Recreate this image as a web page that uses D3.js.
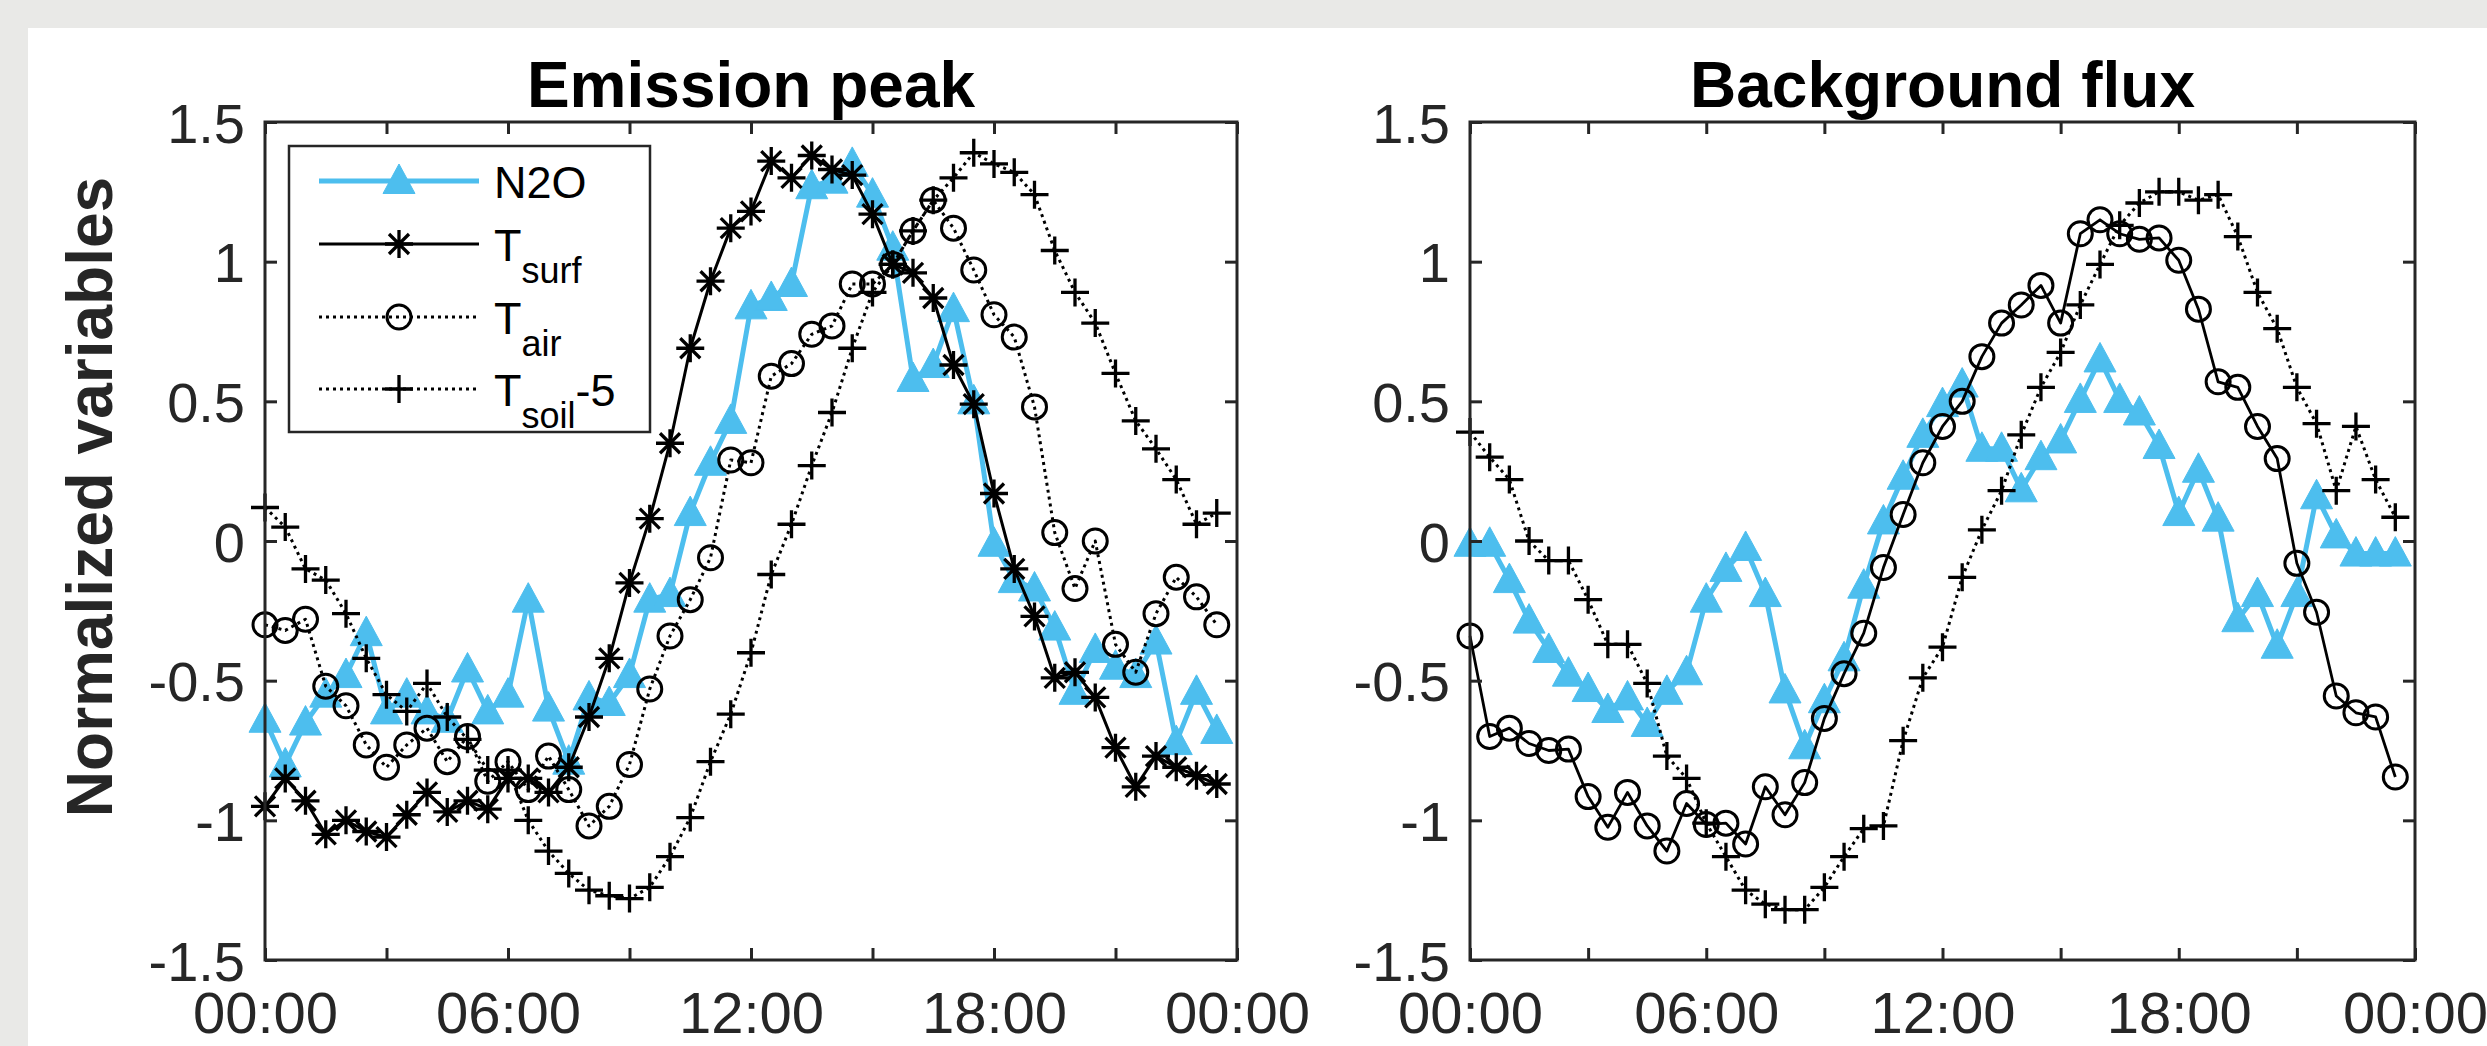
<!DOCTYPE html>
<html>
<head>
<meta charset="utf-8">
<script src="https://cdn.jsdelivr.net/npm/d3@7"></script>
<style>
  html, body { margin: 0; padding: 0; background: #e9e9e7; }
  svg { display: block; }
  text { font-family: "Liberation Sans", Arial, Helvetica, sans-serif; }
</style>
</head>
<body>
<svg id="chart" width="2487" height="1046"></svg>
<script>
// half-hourly time stamps of the mean diurnal cycle
const times = ["00:00","00:30","01:00","01:30","02:00","02:30","03:00","03:30","04:00","04:30",
  "05:00","05:30","06:00","06:30","07:00","07:30","08:00","08:30","09:00","09:30",
  "10:00","10:30","11:00","11:30","12:00","12:30","13:00","13:30","14:00","14:30",
  "15:00","15:30","16:00","16:30","17:00","17:30","18:00","18:30","19:00","19:30",
  "20:00","20:30","21:00","21:30","22:00","22:30","23:00","23:30"];

// Emission peak panel
const n2oPeak = [-0.64,-0.80,-0.65,-0.55,-0.48,-0.33,-0.61,-0.55,-0.61,-0.64,
  -0.46,-0.61,-0.55,-0.21,-0.60,-0.79,-0.56,-0.58,-0.48,-0.21,
  -0.19,0.10,0.28,0.43,0.84,0.87,0.92,1.27,1.29,1.35,
  1.24,1.05,0.58,0.63,0.83,0.50,-0.01,-0.14,-0.17,-0.31,
  -0.54,-0.39,-0.45,-0.48,-0.36,-0.72,-0.54,-0.68];
const tsurfPeak = [-0.95,-0.85,-0.93,-1.05,-1.00,-1.04,-1.06,-0.98,-0.90,-0.97,
  -0.93,-0.96,-0.85,-0.85,-0.90,-0.81,-0.63,-0.42,-0.15,0.08,
  0.35,0.69,0.93,1.12,1.18,1.36,1.30,1.38,1.33,1.31,
  1.17,0.99,0.96,0.87,0.63,0.49,0.17,-0.10,-0.27,-0.49,
  -0.47,-0.56,-0.74,-0.88,-0.77,-0.81,-0.84,-0.87];
const tairPeak = [-0.30,-0.32,-0.28,-0.52,-0.59,-0.73,-0.81,-0.73,-0.67,-0.79,
  -0.70,-0.86,-0.79,-0.89,-0.77,-0.89,-1.02,-0.95,-0.80,-0.53,
  -0.34,-0.21,-0.06,0.29,0.28,0.59,0.635,0.74,0.77,0.92,
  0.92,0.99,1.11,1.22,1.12,0.97,0.81,0.73,0.48,0.03,
  -0.17,0.00,-0.37,-0.47,-0.26,-0.13,-0.20,-0.30];
const tsoilPeak = [0.12,0.05,-0.10,-0.14,-0.26,-0.42,-0.55,-0.61,-0.51,-0.63,
  -0.71,-0.82,-0.82,-1.00,-1.11,-1.19,-1.25,-1.27,-1.28,-1.24,
  -1.13,-0.99,-0.79,-0.62,-0.40,-0.12,0.06,0.27,0.46,0.69,
  0.89,0.99,1.11,1.22,1.30,1.39,1.35,1.32,1.24,1.04,
  0.89,0.78,0.60,0.43,0.33,0.22,0.06,0.10];

// Background flux panel
const n2oBg = [-0.01,-0.01,-0.14,-0.285,-0.39,-0.475,-0.53,-0.605,-0.56,-0.655,
  -0.54,-0.47,-0.21,-0.10,-0.025,-0.19,-0.535,-0.735,-0.57,-0.42,
  -0.16,0.07,0.23,0.38,0.49,0.56,0.33,0.33,0.185,0.30,
  0.36,0.505,0.65,0.505,0.46,0.34,0.10,0.255,0.08,-0.28,
  -0.19,-0.375,-0.19,0.16,0.02,-0.045,-0.045,-0.045];
const tairBg = [-0.34,-0.70,-0.67,-0.725,-0.75,-0.745,-0.915,-1.025,-0.90,-1.02,
  -1.11,-0.94,-1.015,-1.01,-1.085,-0.88,-0.98,-0.865,-0.635,-0.475,
  -0.33,-0.095,0.095,0.28,0.41,0.50,0.66,0.78,0.845,0.915,
  0.78,1.10,1.15,1.10,1.08,1.085,1.005,0.83,0.57,0.55,
  0.41,0.295,-0.08,-0.255,-0.555,-0.615,-0.63,-0.845];
const tsoilBg = [0.39,0.30,0.22,0.00,-0.07,-0.07,-0.21,-0.37,-0.37,-0.51,
  -0.77,-0.85,-1.01,-1.13,-1.25,-1.30,-1.32,-1.32,-1.24,-1.13,
  -1.03,-1.02,-0.715,-0.49,-0.38,-0.13,0.04,0.18,0.38,0.55,
  0.675,0.845,0.99,1.13,1.21,1.25,1.25,1.22,1.24,1.09,
  0.89,0.76,0.55,0.42,0.18,0.41,0.22,0.085];

// axis ticks
const xTickHours = [0, 3, 6, 9, 12, 15, 18, 21, 24];
const xLabelHours = [0, 6, 12, 18, 24];
const xTickLabels = ["00:00", "06:00", "12:00", "18:00", "00:00"];
const yTicks = [-1.5, -1, -0.5, 0, 0.5, 1, 1.5];

const titles = ["Emission peak", "Background flux"];

const BLUE = "#4DBEEE";
const AXIS = "#262626";

// line / marker looks for each series
const styles = {
  n2o:   { color: BLUE, width: 5, dash: null, marker: "triangle" },
  tsurf: { color: "#000", width: 3, dash: null, marker: "star" },
  tairDot: { color: "#000", width: 3, dash: "3 4", marker: "circle" },
  tairSolid: { color: "#000", width: 2.8, dash: null, marker: "circle" },
  tsoil: { color: "#000", width: 3, dash: "3 4", marker: "plus" }
};

const hours = times.map(t => +t.slice(0, 2) + +t.slice(3) / 60);

const svg = d3.select("#chart");
svg.append("rect").attr("x", 28).attr("y", 28)
  .attr("width", 2487 - 28).attr("height", 1046 - 28).attr("fill", "#fff");

const plotTop = 122, plotBottom = 960;
const yScale = d3.scaleLinear().domain([-1.5, 1.5]).range([plotBottom, plotTop]);

const panels = [
  { left: 265, right: 1237, title: titles[0],
    series: [[n2oPeak, styles.n2o], [tsurfPeak, styles.tsurf], [tairPeak, styles.tairDot], [tsoilPeak, styles.tsoil]] },
  { left: 1470, right: 2415, title: titles[1],
    series: [[n2oBg, styles.n2o], [tairBg, styles.tairSolid], [tsoilBg, styles.tsoil]] }
];

function markerPath(type) {
  if (type === "triangle") return "M0,-17L16,12.5L-16,12.5Z";
  if (type === "star") return "M-14,0H14M0,-14V14M-10,-10L10,10M-10,10L10,-10";
  if (type === "plus") return "M-14,0H14M0,-14V14";
  return null;
}

function drawMarker(g, type, x, y, color) {
  if (type === "circle") {
    g.append("circle").attr("cx", x).attr("cy", y).attr("r", 12)
      .attr("fill", "none").attr("stroke", color).attr("stroke-width", 3);
  } else if (type === "triangle") {
    g.append("path").attr("d", markerPath(type))
      .attr("transform", `translate(${x},${y})`)
      .attr("fill", color).attr("stroke", color).attr("stroke-width", 1);
  } else {
    g.append("path").attr("d", markerPath(type))
      .attr("transform", `translate(${x},${y})`)
      .attr("fill", "none").attr("stroke", color).attr("stroke-width", 3.3);
  }
}

panels.forEach(p => {
  const xScale = d3.scaleLinear().domain([0, 24]).range([p.left, p.right]);
  const g = svg.append("g");

  // series
  p.series.forEach(([values, st]) => {
    const line = d3.line().x((d, i) => xScale(hours[i])).y(d => yScale(d));
    g.append("path").datum(values)
      .attr("d", line)
      .attr("fill", "none")
      .attr("stroke", st.color)
      .attr("stroke-width", st.width)
      .attr("stroke-linejoin", "round")
      .attr("stroke-dasharray", st.dash);
    const mg = g.append("g");
    values.forEach((v, i) => drawMarker(mg, st.marker, xScale(hours[i]), yScale(v), st.color));
  });

  // axes (ticks point inward, box all round)
  const fmtX = h => { const k = xLabelHours.indexOf(h); return k < 0 ? "" : xTickLabels[k]; };
  const axB = g.append("g").attr("transform", `translate(0,${plotBottom})`)
    .call(d3.axisBottom(xScale).tickValues(xTickHours).tickSize(-12).tickPadding(32).tickFormat(fmtX));
  const axT = g.append("g").attr("transform", `translate(0,${plotTop})`)
    .call(d3.axisTop(xScale).tickValues(xTickHours).tickSize(-12).tickFormat(""));
  const axL = g.append("g").attr("transform", `translate(${p.left},0)`)
    .call(d3.axisLeft(yScale).tickValues(yTicks).tickSize(-12).tickPadding(20).tickFormat(d => String(d)));
  const axR = g.append("g").attr("transform", `translate(${p.right},0)`)
    .call(d3.axisRight(yScale).tickValues(yTicks).tickSize(-12).tickFormat(""));
  [axB, axT, axL, axR].forEach(a => {
    a.select(".domain").remove();
    a.selectAll(".tick line").attr("stroke", AXIS).attr("stroke-width", 3);
    a.selectAll(".tick text").attr("fill", AXIS).style("font-size", "56px")
      .style("font-family", '"Liberation Sans", Arial, sans-serif');
  });
  axB.selectAll(".tick text").style("font-size", "58px");
  axL.selectAll(".tick text").attr("dy", "0.36em");

  g.append("rect")
    .attr("x", p.left).attr("y", plotTop)
    .attr("width", p.right - p.left).attr("height", plotBottom - plotTop)
    .attr("fill", "none").attr("stroke", AXIS).attr("stroke-width", 3);

  g.append("text")
    .attr("x", (p.left + p.right) / 2).attr("y", 107)
    .attr("text-anchor", "middle")
    .style("font-size", "64px").style("font-weight", "bold")
    .attr("fill", "#000")
    .text(p.title);
});

// y axis label
svg.append("text")
  .attr("transform", "translate(112,497) rotate(-90)")
  .attr("text-anchor", "middle")
  .style("font-size", "64px").style("font-weight", "bold")
  .attr("fill", AXIS)
  .text("Normalized variables");

// legend (left panel)
const legend = svg.append("g");
legend.append("rect").attr("x", 289).attr("y", 146).attr("width", 361).attr("height", 286)
  .attr("fill", "#fff").attr("stroke", AXIS).attr("stroke-width", 2.5);

const legendRows = [
  { st: styles.n2o, y: 181, main: "N2O", sub: null, tail: null },
  { st: styles.tsurf, y: 244, main: "T", sub: "surf", tail: null },
  { st: styles.tairDot, y: 317, main: "T", sub: "air", tail: null },
  { st: styles.tsoil, y: 389, main: "T", sub: "soil", tail: "-5" }
];
legendRows.forEach(r => {
  legend.append("line").attr("x1", 319).attr("x2", 479).attr("y1", r.y).attr("y2", r.y)
    .attr("stroke", r.st.color).attr("stroke-width", r.st.width)
    .attr("stroke-dasharray", r.st.dash);
  drawMarker(legend, r.st.marker, 399, r.y, r.st.color);
  const t = legend.append("text").attr("x", 494).attr("y", r.y + 17)
    .style("font-size", "45px").attr("fill", "#000");
  t.append("tspan").text(r.main);
  if (r.sub) t.append("tspan").attr("dy", 22).style("font-size", "36px").text(r.sub);
  if (r.tail) t.append("tspan").attr("dy", -22).style("font-size", "45px").text(r.tail);
});
</script>
</body>
</html>
